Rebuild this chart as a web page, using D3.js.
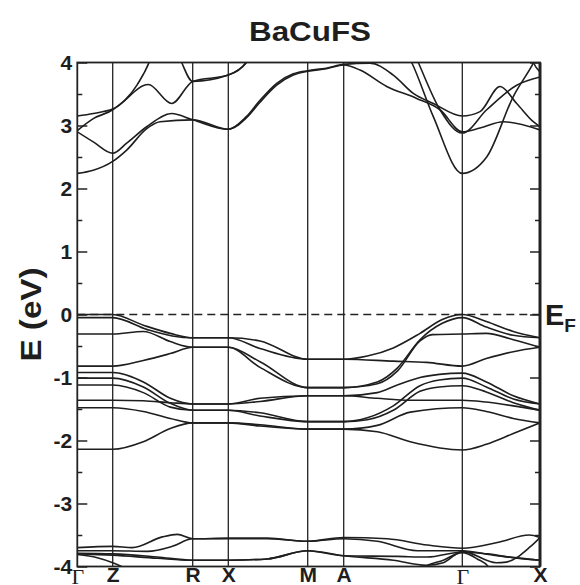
<!DOCTYPE html>
<html>
<head>
<meta charset="utf-8">
<script src="https://cdn.jsdelivr.net/npm/d3@7"></script>
<style>
body { margin: 0; background: #fff; }
svg text { font-family: "Liberation Sans", Arial, sans-serif; font-weight: bold; fill: #1e1e1e; }
</style>
</head>
<body>
<script>
// high symmetry points along the k path
const kLabels = ["Γ", "Z", "R", "X", "M", "A", "Γ", "X"]
const kPos = [0, 35.4, 115.4, 151, 230.4, 266.4, 385, 462.7]
const yTicks = [4, 3, 2, 1, 0, -1, -2, -3, -4]
const yMinor = [3.5, 2.5, 1.5, 0.5, -0.5, -1.5, -2.5, -3.5]

// valence bands [k, E]
const valence = [
  [[0,0],[35.4,0],[66,-0.17],[93,-0.30],[115.4,-0.37],[151,-0.37],[182.7,-0.42],[230.4,-0.71],[266.4,-0.71],[290,-0.66],[316,-0.53],[342.7,-0.30],[365,-0.08],[385,0],[409,-0.11],[436,-0.27],[462.7,-0.37]],
  [[0,-0.05],[35.4,-0.05],[70,-0.24],[95,-0.34],[115.4,-0.37],[151,-0.37],[182.7,-0.54],[230.4,-0.71],[266.4,-0.71],[316,-0.74],[349.4,-0.76],[385,-0.82],[409,-0.70],[436,-0.59],[462.7,-0.52]],
  [[0,-0.31],[35.4,-0.31],[66,-0.27],[93,-0.43],[115.4,-0.52],[151,-0.52],[182.7,-0.75],[230.4,-1.16],[266.4,-1.16],[300,-1.07],[320,-0.85],[342.7,-0.40],[365,-0.14],[385,-0.05],[409,-0.20],[436,-0.33],[462.7,-0.37]],
  [[0,-0.82],[35.4,-0.82],[66,-0.73],[93,-0.62],[115.4,-0.52],[151,-0.52],[182.7,-0.84],[230.4,-1.16],[266.4,-1.16],[300,-1.10],[320,-0.90],[342.7,-0.42],[355,-0.32],[385,-0.31],[409,-0.30],[436,-0.40],[462.7,-0.52]],
  [[0,-0.92],[35.4,-0.92],[66,-1.07],[93,-1.33],[115.4,-1.42],[151,-1.42],[182.7,-1.33],[230.4,-1.29],[266.4,-1.29],[300,-1.24],[320,-1.12],[342.7,-1.00],[362,-0.95],[385,-0.93],[409,-1.07],[436,-1.29],[462.7,-1.42]],
  [[0,-1.36],[35.4,-1.36],[66,-1.37],[93,-1.40],[115.4,-1.42],[151,-1.42],[182.7,-1.38],[230.4,-1.29],[266.4,-1.29],[300,-1.33],[333,-1.36],[385,-1.36],[409,-1.39],[436,-1.45],[462.7,-1.52]],
  [[0,-1.01],[35.4,-1.01],[66,-1.15],[93,-1.41],[115.4,-1.52],[151,-1.52],[182.7,-1.56],[230.4,-1.70],[266.4,-1.70],[290,-1.64],[316,-1.45],[342.7,-1.13],[362,-1.04],[385,-1.01],[409,-1.15],[436,-1.34],[462.7,-1.42]],
  [[0,-1.12],[35.4,-1.12],[66,-1.24],[93,-1.47],[115.4,-1.52],[151,-1.52],[182.7,-1.61],[230.4,-1.70],[266.4,-1.70],[290,-1.67],[316,-1.52],[342.7,-1.22],[362,-1.15],[385,-1.13],[409,-1.23],[436,-1.40],[462.7,-1.52]],
  [[0,-1.48],[35.4,-1.48],[66,-1.54],[93,-1.65],[115.4,-1.72],[151,-1.72],[182.7,-1.75],[230.4,-1.82],[266.4,-1.82],[300,-1.76],[333,-1.55],[385,-1.48],[409,-1.54],[436,-1.65],[462.7,-1.72]],
  [[0,-2.14],[35.4,-2.14],[66,-2.02],[93,-1.81],[115.4,-1.72],[151,-1.72],[182.7,-1.77],[230.4,-1.82],[266.4,-1.82],[300,-1.86],[333,-2.02],[385,-2.15],[409,-2.06],[436,-1.89],[462.7,-1.72]]
]

// low lying bands near -4 eV
const lower = [
  [[0,-3.70],[35.4,-3.68],[55,-3.70],[85,-3.53],[100,-3.49],[115.4,-3.56],[151,-3.55],[190,-3.55],[230.4,-3.60],[266.4,-3.54],[310,-3.56],[350,-3.66],[385,-3.71],[420,-3.62],[452,-3.50],[462.7,-3.54]],
  [[0,-3.75],[35.4,-3.75],[70,-3.76],[95,-3.68],[115.4,-3.56],[151,-3.56],[190,-3.56],[230.4,-3.60],[266.4,-3.56],[300,-3.60],[340,-3.75],[385,-3.75],[416,-3.82],[462.7,-3.90]],
  [[0,-3.79],[35.4,-3.80],[80,-3.85],[115.4,-3.90],[151,-3.90],[190,-3.88],[230.4,-3.75],[266.4,-3.83],[320,-3.84],[350,-3.85],[385,-3.77],[410,-3.80],[440,-3.87],[462.7,-3.90]],
  [[0,-3.80],[35.4,-3.82],[80,-3.87],[115.4,-3.90],[151,-3.90],[190,-3.88],[230.4,-3.75],[266.4,-3.83],[316,-3.90],[349,-3.98],[366,-3.94],[385,-3.76],[419,-3.94],[429,-3.93],[452.7,-3.69],[462.7,-3.54]],
  [[0,-3.81],[20,-3.86],[35.4,-3.94],[50,-4.05],[60,-4.2]],
  [[330,-4.3],[346,-4.02],[366,-3.90],[385,-3.78],[400,-3.88],[412,-4.02],[420,-4.3]]
]

// conduction bands
const conduction = [
  [[0,3.15],[16,3.19],[35.4,3.26],[71,3.65],[94.4,3.35],[115.4,3.70],[151,3.80],[169,4.0],[180,4.3]],
  [[0,2.92],[16,3.11],[35.4,3.25],[60,3.65],[73,4.05],[80,4.4]],
  [[0,2.90],[16,2.74],[35.4,2.56],[49.4,2.72],[69.4,2.98],[94.4,3.19],[115.4,3.09],[151,2.94],[169,3.14],[182.7,3.40],[199.4,3.67],[216,3.82],[230.4,3.87],[249,3.91],[266.4,3.97],[292.7,3.99],[316,3.80],[336,3.51],[356,3.35],[385,3.15],[402.7,3.22],[422.7,3.62],[439.4,3.35],[456,3.06],[462.7,2.98]],
  [[0,2.24],[16,2.29],[35.4,2.43],[49.4,2.61],[69.4,2.95],[82.7,3.06],[115.4,3.09],[151,2.94],[169,3.12],[182.7,3.37],[199.4,3.64],[216,3.80],[230.4,3.86],[249,3.90],[266.4,3.96],[282.7,3.88],[309.4,3.62],[339.4,3.43],[362.7,3.25],[385,2.90],[402.7,2.96],[426,3.06],[462.7,2.93]],
  [[95,4.4],[104.4,4.0],[115.4,3.70],[151,3.80],[169,4.0],[180,4.3]],
  [[320,4.4],[334.4,4.0],[356,3.14],[385,2.24],[409.4,2.50],[436,3.46],[456,3.99],[462.7,4.2]],
  [[330,4.4],[341,4.0],[362.7,3.25],[385,2.88],[409.4,3.25],[439.4,3.64],[462.7,3.77]],
  [[448,4.4],[456,4.0],[462.7,3.85]]
]

var W = 580, H = 585
var pLeft = 77.3, pRight = 540, pTop = 62.5, pBottom = 566.5

var svg = d3.select("body").append("svg")
    .attr("width", W)
    .attr("height", H)

var x = d3.scaleLinear().domain([0, 462.7]).range([pLeft, pRight])
var y = d3.scaleLinear().domain([-4, 4]).range([pBottom, pTop])

svg.append("clipPath").attr("id", "plot")
    .append("rect")
    .attr("x", pLeft).attr("y", pTop)
    .attr("width", pRight - pLeft).attr("height", pBottom - pTop)

// vertical lines at high symmetry points
svg.selectAll(".kline")
    .data(kPos.slice(1, -1))
    .enter()
    .append("line")
    .attr("x1", d => x(d)).attr("x2", d => x(d))
    .attr("y1", y(4)).attr("y2", y(-4))
    .attr("stroke", "#222").attr("stroke-width", 1.3)

// fermi level
svg.append("line")
    .attr("x1", pLeft).attr("x2", pRight)
    .attr("y1", y(0)).attr("y2", y(0))
    .attr("stroke", "#222").attr("stroke-width", 1.4)
    .attr("stroke-dasharray", "8,5")

var line = d3.line()
    .x(d => x(d[0]))
    .y(d => y(d[1]))
    .curve(d3.curveMonotoneX)

svg.append("g")
    .attr("clip-path", "url(#plot)")
    .selectAll("path")
    .data(valence.concat(lower, conduction))
    .enter()
    .append("path")
    .attr("d", line)
    .attr("fill", "none")
    .attr("stroke", "#1e1e1e")
    .attr("stroke-width", 1.6)

// axes
var yAxis = d3.axisLeft(y).tickValues(yTicks).tickSize(-10).tickPadding(5).tickFormat(d => String(d))
var gy = svg.append("g").attr("transform", "translate(" + pLeft + ",0)").call(yAxis)
gy.select(".domain").remove()
gy.selectAll("text").style("font-size", "21px").attr("fill", "#1e1e1e")

var gym = svg.append("g").attr("transform", "translate(" + pLeft + ",0)")
    .call(d3.axisLeft(y).tickValues(yMinor).tickSize(-5).tickFormat(""))
gym.select(".domain").remove()

var gr = svg.append("g").attr("transform", "translate(" + pRight + ",0)")
    .call(d3.axisRight(y).tickValues(yTicks).tickSize(-10).tickFormat(""))
gr.select(".domain").remove()
var grm = svg.append("g").attr("transform", "translate(" + pRight + ",0)")
    .call(d3.axisRight(y).tickValues(yMinor).tickSize(-5).tickFormat(""))
grm.select(".domain").remove()

svg.selectAll(".tick line").attr("stroke", "#222").attr("stroke-width", 1.5)

var gx = svg.append("g").attr("transform", "translate(0," + pBottom + ")")
    .call(d3.axisBottom(x).tickValues(kPos).tickSize(0).tickPadding(1).tickFormat((d, i) => kLabels[i]))
gx.select(".domain").remove()
gx.selectAll("text").style("font-size", "21px").attr("fill", "#1e1e1e")
gx.selectAll("text").filter(d => kLabels[kPos.indexOf(d)] == "Γ")
    .style("font-family", "'Liberation Serif', 'Times New Roman', serif")
    .style("font-weight", "normal")
    .style("font-size", "22px")
    .attr("dy", "0.74em")

// frame
svg.append("rect")
    .attr("x", pLeft).attr("y", pTop)
    .attr("width", pRight - pLeft).attr("height", pBottom - pTop)
    .attr("fill", "none").attr("stroke", "#222").attr("stroke-width", 1.8)
svg.append("line")
    .attr("x1", pRight).attr("x2", pRight).attr("y1", pTop).attr("y2", pBottom)
    .attr("stroke", "#222").attr("stroke-width", 3)

// labels
svg.append("text")
    .attr("x", 310).attr("y", 41)
    .attr("text-anchor", "middle")
    .attr("textLength", 122)
    .attr("lengthAdjust", "spacingAndGlyphs")
    .style("font-size", "27px")
    .text("BaCuFS")

svg.append("text")
    .attr("transform", "translate(41," + y(0) + ") rotate(-90)")
    .attr("text-anchor", "middle")
    .attr("textLength", 94)
    .attr("lengthAdjust", "spacingAndGlyphs")
    .style("font-size", "29px")
    .text("E (eV)")

var ef = svg.append("text")
    .attr("x", 545).attr("y", y(0) + 10)
    .style("font-size", "29px")
ef.append("tspan").text("E")
ef.append("tspan").attr("dy", 7).style("font-size", "19px").text("F")
</script>
</body>
</html>
